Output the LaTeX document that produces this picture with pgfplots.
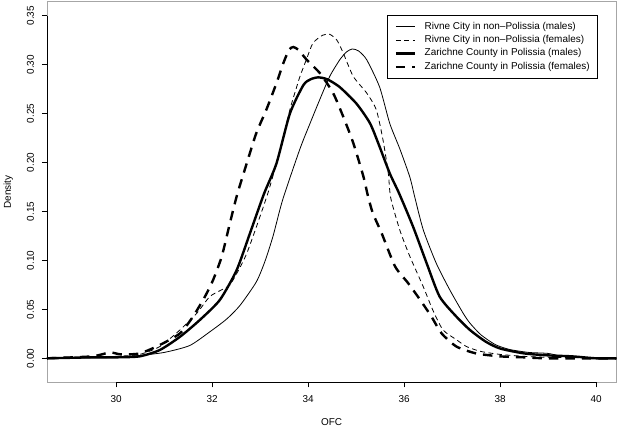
\documentclass[border=0pt]{standalone}
\usepackage{pgfplots}
\pgfplotsset{compat=1.18}
\usepackage{fontspec}
\setmainfont{Liberation Sans}
\begin{document}
\begin{tikzpicture}
\path[use as bounding box] (-47bp,-44.7bp) rectangle (573bp,382.3bp);
\begin{axis}[
  at={(0,0)}, anchor=south west,
  scale only axis, width=569.3bp, height=380.6bp,
  xmin=28.56, xmax=40.42, ymin=-0.0245, ymax=0.3643,
  xtick={30,32,34,36,38,40},
  ytick={0,0.05,0.10,0.15,0.20,0.25,0.30,0.35},
  xtick pos=bottom, ytick pos=left,
  xtick align=outside, ytick align=outside, tickwidth=5bp,
  xtick style={draw=black, line width=0.8bp},
  ytick style={draw=black, line width=0.8bp},
  axis line style={gray!70, line width=0.8bp},
  /pgf/number format/assume math mode=true,
  yticklabel={\pgfmathprintnumber[fixed,fixed zerofill,precision=2]{\tick}},
  every tick label/.append style={font=\fontsize{10}{12}\selectfont},
  xticklabel style={anchor=base, yshift=-15bp},
  yticklabel style={rotate=90, anchor=base, yshift=8bp},
  xlabel={OFC}, ylabel={Density},
  label style={font=\fontsize{10}{12}\selectfont},
  xlabel style={at={(axis description cs:0.5,-0.105)}, anchor=center},
  ylabel style={at={(axis description cs:-0.068,0.5)}, anchor=center},
  legend style={at={(0.9666,0.965)}, anchor=north east, draw=black, line width=0.6bp,
    font=\fontsize{10}{12}\selectfont, inner xsep=7.3bp, inner ysep=6.5bp,
    row sep=3.3bp, column sep=0bp,
    nodes={inner sep=0pt, text height=7.5bp, text depth=2.5bp}},
  legend cell align=left,
  legend image code/.code={\draw[#1] (0bp,0bp) -- (19bp,0bp);},
  /tikz/column 1/.style={column sep=8.7bp},
  clip=false,
]
\draw[black, line width=0.8bp] (axis cs:30,-0.0245) -- (axis cs:40,-0.0245);
\draw[black, line width=0.8bp] (axis cs:28.56,0) -- (axis cs:28.56,0.35);
\pgfplotsinvokeforeach{30,32,34,36,38,40}{
  \draw[black, line width=0.8bp] (axis cs:#1,-0.0245) -- ++(0bp,-5bp);}
\pgfplotsinvokeforeach{0,0.05,0.10,0.15,0.20,0.25,0.30,0.35}{
  \draw[black, line width=0.8bp] (axis cs:28.56,#1) -- ++(-5bp,0bp);}
\begin{scope}
\clip (axis cs:28.56,-0.0245) rectangle (axis cs:40.42,0.3643);
\addplot[black, line width=0.8bp, smooth, tension=0.4] coordinates {
(28.56,0.000) (29.5,0.0005) (30.0,0.001) (30.5,0.003) (31.0,0.006) (31.53,0.013)
(31.95,0.027) (32.3,0.040) (32.58,0.054) (32.92,0.078) (33.1,0.099) (33.27,0.125)
(33.47,0.162) (33.83,0.214) (34.04,0.240) (34.24,0.264) (34.45,0.288) (34.66,0.305)
(34.8,0.313) (34.92,0.316) (35.05,0.314) (35.22,0.305) (35.49,0.277) (35.7,0.240)
(35.91,0.214) (36.12,0.185) (36.22,0.165) (36.40,0.131) (36.67,0.097) (36.95,0.070)
(37.23,0.046) (37.37,0.036) (37.6,0.024) (37.9,0.014) (38.2,0.009) (38.6,0.006)
(39.0,0.005) (39.3,0.002) (39.7,0.001) (40.42,0.000)};
\addlegendentry{Rivne City in non--Polissia (males)}
\addplot[black, line width=0.8bp, dash pattern=on 5bp off 3.5bp, smooth, tension=0.4] coordinates {
(28.56,0.000) (29.5,0.001) (30.0,0.002) (30.49,0.004) (30.91,0.012) (31.33,0.029)
(31.68,0.046) (31.95,0.063) (32.2,0.070) (32.37,0.075) (32.55,0.090) (32.72,0.107)
(32.92,0.134) (33.17,0.170) (33.4,0.210) (33.62,0.254) (33.76,0.277) (33.83,0.288)
(33.97,0.306) (34.10,0.322) (34.3,0.330) (34.45,0.331) (34.6,0.325) (34.73,0.312)
(34.94,0.288) (35.22,0.271) (35.42,0.254) (35.56,0.223) (35.67,0.189) (35.72,0.164)
(35.91,0.131) (36.12,0.104) (36.40,0.073) (36.60,0.049) (36.81,0.029) (37.09,0.019)
(37.30,0.012) (37.6,0.007) (38.0,0.004) (38.5,0.002) (39.0,0.001) (40.42,0.000)};
\addlegendentry{Rivne City in non--Polissia (females)}
\addplot[black, line width=2.4bp, smooth, tension=0.4] coordinates {
(28.56,0.000) (29.5,0.001) (30.0,0.001) (30.49,0.002) (30.91,0.0085) (31.33,0.022)
(31.74,0.039) (32.16,0.0596) (32.51,0.090) (32.79,0.128) (33.08,0.168) (33.34,0.199)
(33.62,0.250) (33.90,0.279) (34.05,0.285) (34.21,0.287) (34.4,0.285) (34.66,0.277)
(35.01,0.260) (35.29,0.240) (35.49,0.216) (35.70,0.189) (35.9,0.168) (36.19,0.134)
(36.47,0.097) (36.74,0.063) (37.09,0.0425) (37.37,0.029) (37.7,0.017) (38.0,0.010)
(38.5,0.005) (39.0,0.003) (39.5,0.002) (40.0,0.000) (40.42,0.000)};
\addlegendentry{Zarichne County in Polissia (males)}
\addplot[black, line width=2.4bp, dash pattern=on 9.5bp off 7bp, smooth, tension=0.4] coordinates {
(28.56,0.000) (29.5,0.002) (29.87,0.006) (30.1,0.004) (30.49,0.005) (30.91,0.0136)
(31.33,0.0255) (31.60,0.0425) (31.85,0.063) (32.02,0.080) (32.20,0.104) (32.37,0.138)
(32.52,0.167) (32.72,0.199) (32.92,0.230) (33.13,0.254) (33.34,0.281) (33.48,0.301)
(33.6,0.315) (33.69,0.318) (33.8,0.315) (33.97,0.305) (34.25,0.291) (34.52,0.271)
(34.73,0.247) (34.94,0.220) (35.15,0.186) (35.25,0.165) (35.35,0.148) (35.53,0.128)
(35.81,0.094) (36.08,0.077) (36.33,0.060) (36.57,0.0425) (36.78,0.0255) (37.09,0.012)
(37.5,0.005) (38.0,0.002) (38.5,0.001) (39.0,0.000) (40.42,0.000)};
\addlegendentry{Zarichne County in Polissia (females)}
\end{scope}
\end{axis}
\end{tikzpicture}
\end{document}
